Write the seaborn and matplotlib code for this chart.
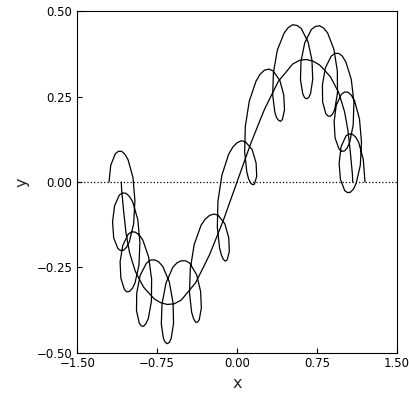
import matplotlib
matplotlib.use("Agg")
import matplotlib.pyplot as plt
import seaborn as sns


#==============================================================
# 1. Data
#==============================================================

# looped curve, one row per turn
loop_x = [
    -1.202, -1.186, -1.143, -1.114, -1.083, -1.052, -1.023, -0.977, -0.959, -0.971, -1.011, -1.037, -1.065, -1.093, -1.119, -1.158,
    -1.169, -1.150, -1.105, -1.075, -1.043, -1.011, -0.980, -0.932, -0.912, -0.921, -0.958, -0.983, -1.010, -1.035, -1.058, -1.091,
    -1.098, -1.073, -1.022, -0.989, -0.955, -0.919, -0.885, -0.830, -0.802, -0.804, -0.833, -0.855, -0.878, -0.899, -0.919, -0.944,
    -0.942, -0.910, -0.851, -0.814, -0.776, -0.736, -0.698, -0.636, -0.601, -0.596, -0.618, -0.635, -0.655, -0.674, -0.691, -0.711,
    -0.704, -0.667, -0.603, -0.564, -0.523, -0.482, -0.443, -0.379, -0.342, -0.335, -0.355, -0.371, -0.390, -0.409, -0.426, -0.446,
    -0.439, -0.402, -0.338, -0.299, -0.258, -0.217, -0.179, -0.115, -0.078, -0.072, -0.092, -0.109, -0.128, -0.147, -0.164, -0.185,
    -0.179, -0.142, -0.079, -0.040, 0.000, 0.040, 0.079, 0.142, 0.179, 0.185, 0.164, 0.147, 0.128, 0.109, 0.092, 0.072,
    0.078, 0.115, 0.179, 0.217, 0.258, 0.299, 0.338, 0.402, 0.439, 0.446, 0.426, 0.409, 0.390, 0.371, 0.355, 0.335,
    0.342, 0.379, 0.443, 0.482, 0.523, 0.564, 0.603, 0.667, 0.704, 0.711, 0.691, 0.674, 0.655, 0.635, 0.618, 0.596,
    0.601, 0.636, 0.698, 0.736, 0.776, 0.814, 0.851, 0.910, 0.942, 0.944, 0.919, 0.899, 0.878, 0.855, 0.833, 0.804,
    0.802, 0.830, 0.885, 0.919, 0.955, 0.989, 1.022, 1.073, 1.098, 1.091, 1.058, 1.035, 1.010, 0.983, 0.958, 0.921,
    0.912, 0.932, 0.980, 1.011, 1.043, 1.075, 1.105, 1.150, 1.169, 1.158, 1.119, 1.093, 1.065, 1.037, 1.011, 0.971,
    0.959, 0.977, 1.023, 1.052, 1.083, 1.114, 1.143, 1.186, 1.202,
]
loop_y = [
    0.000, 0.049, 0.083, 0.090, 0.090, 0.081, 0.065, 0.013, -0.055, -0.123, -0.175, -0.191, -0.200, -0.201, -0.195, -0.164,
    -0.117, -0.070, -0.038, -0.032, -0.033, -0.042, -0.058, -0.110, -0.177, -0.244, -0.296, -0.312, -0.321, -0.322, -0.315, -0.282,
    -0.234, -0.186, -0.153, -0.146, -0.147, -0.155, -0.170, -0.220, -0.285, -0.350, -0.400, -0.415, -0.423, -0.422, -0.413, -0.377,
    -0.326, -0.274, -0.238, -0.229, -0.228, -0.234, -0.247, -0.293, -0.354, -0.414, -0.458, -0.470, -0.474, -0.470, -0.459, -0.416,
    -0.357, -0.296, -0.250, -0.237, -0.231, -0.231, -0.238, -0.272, -0.321, -0.370, -0.404, -0.411, -0.411, -0.400, -0.382, -0.326,
    -0.255, -0.183, -0.127, -0.109, -0.098, -0.094, -0.097, -0.122, -0.163, -0.203, -0.228, -0.232, -0.227, -0.214, -0.193, -0.132,
    -0.056, 0.020, 0.081, 0.102, 0.115, 0.121, 0.118, 0.095, 0.056, 0.017, -0.006, -0.008, -0.003, 0.009, 0.029, 0.088,
    0.163, 0.237, 0.296, 0.316, 0.328, 0.331, 0.326, 0.298, 0.255, 0.211, 0.183, 0.178, 0.181, 0.189, 0.205, 0.255,
    0.321, 0.387, 0.437, 0.453, 0.461, 0.459, 0.450, 0.411, 0.357, 0.301, 0.260, 0.248, 0.244, 0.247, 0.258, 0.299,
    0.354, 0.408, 0.447, 0.456, 0.458, 0.451, 0.437, 0.389, 0.326, 0.262, 0.214, 0.200, 0.193, 0.193, 0.201, 0.235,
    0.285, 0.335, 0.369, 0.377, 0.377, 0.369, 0.352, 0.301, 0.234, 0.167, 0.116, 0.100, 0.091, 0.090, 0.097, 0.129,
    0.177, 0.225, 0.257, 0.264, 0.263, 0.254, 0.237, 0.185, 0.117, 0.049, -0.004, -0.021, -0.030, -0.031, -0.025, 0.008,
    0.055, 0.103, 0.135, 0.141, 0.140, 0.132, 0.116, 0.066, 0.000,
]

# smooth centre curve
smooth_x = [
    -1.087, -1.083, -1.074, -1.065, -1.054, -1.043, -1.027, -1.010, -0.983, -0.955,
    -0.917, -0.878, -0.827, -0.776, -0.716, -0.655, -0.589, -0.523, -0.457, -0.390,
    -0.324, -0.258, -0.193, -0.128, -0.064, 0.000, 0.064, 0.128, 0.193, 0.258,
    0.324, 0.390, 0.457, 0.523, 0.589, 0.655, 0.716, 0.776, 0.827, 0.878,
    0.917, 0.955, 0.983, 1.010, 1.027, 1.043, 1.054, 1.065, 1.074, 1.083, 1.087,
]
smooth_y = [
    0.000, -0.025, -0.055, -0.085, -0.117, -0.148, -0.177, -0.206, -0.234, -0.262,
    -0.285, -0.308, -0.326, -0.343, -0.354, -0.359, -0.357, -0.346, -0.321, -0.296,
    -0.255, -0.213, -0.163, -0.112, -0.056, 0.000, 0.056, 0.112, 0.163, 0.213,
    0.255, 0.296, 0.321, 0.346, 0.357, 0.359, 0.354, 0.343, 0.326, 0.308,
    0.285, 0.262, 0.234, 0.206, 0.177, 0.148, 0.117, 0.085, 0.055, 0.025, 0.000,
]

x_ticks = [-1.5, -0.75, 0.0, 0.75, 1.5]
y_ticks = [-0.5, -0.25, 0.0, 0.25, 0.5]


#==============================================================
# 2. Plot
#==============================================================

sns.set_style("ticks")
plt.rcParams["font.family"] = ["DejaVu Sans"]

fig = plt.figure(figsize=(4.09, 4.09), dpi=100)
ax = fig.add_axes([0.189, 0.138, 0.781, 0.834])

sns.lineplot(x=loop_x, y=loop_y, sort=False, estimator=None,
             color="black", linewidth=0.9, ax=ax)
sns.lineplot(x=smooth_x, y=smooth_y, sort=False, estimator=None,
             color="black", linewidth=0.9, ax=ax)
ax.axhline(0, color="black", linestyle=":", linewidth=0.9)

ax.set_xlim(-1.5, 1.5)
ax.set_ylim(-0.5, 0.5)
ax.set_xticks(x_ticks)
ax.set_yticks(y_ticks)
ax.set_xticklabels([f"{t:.2f}".replace("-", "\u2212") for t in x_ticks])
ax.set_yticklabels([f"{t:.2f}".replace("-", "\u2212") for t in y_ticks])
ax.tick_params(direction="in", length=3.6, width=0.8, labelsize=8.5, colors="black")
for s in ax.spines.values():
    s.set_visible(True)
    s.set_color("black")
    s.set_linewidth(0.8)
ax.set_xlabel("x", fontsize=11.5, labelpad=4)
ax.set_ylabel("y", fontsize=11.5, labelpad=5)

fig.savefig("out.png", dpi=100)
